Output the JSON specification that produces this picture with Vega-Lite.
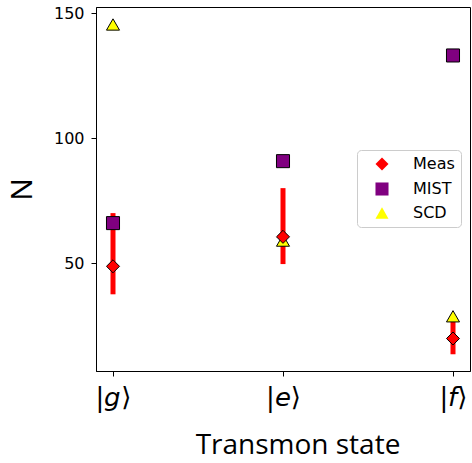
{
  "$schema": "https://vega.github.io/schema/vega-lite/v6.json",
  "width": 374,
  "height": 364,
  "autosize": {"type": "none"},
  "padding": {"left": 96, "top": 7, "right": 2, "bottom": 92},
  "background": "white",
  "config": {
    "view": {"stroke": "black", "strokeWidth": 1},
    "axis": {
      "grid": false,
      "domainColor": "black",
      "domainWidth": 1,
      "tickColor": "black",
      "tickWidth": 1,
      "tickSize": 5,
      "labelColor": "black",
      "titleColor": "black",
      "titleFont": "Open Sans",
      "titleFontWeight": "normal",
      "titleFontSize": 29
    },
    "legend": {
      "orient": "none",
      "legendX": 261,
      "legendY": 143,
      "padding": 6,
      "strokeColor": "#cccccc",
      "fillColor": "white",
      "cornerRadius": 4,
      "symbolSize": 170,
      "symbolStrokeColor": "black",
      "symbolStrokeWidth": 1,
      "symbolOffset": 11,
      "labelOffset": 23,
      "labelFont": "DejaVu Sans",
      "labelFontSize": 16,
      "labelColor": "black",
      "rowPadding": 7
    }
  },
  "datasets": {
    "err": [
      {"state": 0, "lo": 37.5, "hi": 70},
      {"state": 1, "lo": 49.6, "hi": 80},
      {"state": 2, "lo": 13.5, "hi": 27}
    ],
    "pts": [
      {"series": "SCD", "state": 0, "N": 145.5},
      {"series": "SCD", "state": 1, "N": 59},
      {"series": "SCD", "state": 2, "N": 28.7},
      {"series": "Meas", "state": 0, "N": 48.7},
      {"series": "Meas", "state": 1, "N": 60.5},
      {"series": "Meas", "state": 2, "N": 19.8},
      {"series": "MIST", "state": 0, "N": 66},
      {"series": "MIST", "state": 1, "N": 90.8},
      {"series": "MIST", "state": 2, "N": 133.1}
    ]
  },
  "layer": [
    {
      "data": {"name": "err"},
      "mark": {"type": "rule", "color": "red", "strokeWidth": 5},
      "encoding": {
        "x": {"field": "state", "type": "quantitative", "scale": {"domain": [-0.1, 2.1], "nice": false, "zero": false}},
        "y": {"field": "lo", "type": "quantitative", "scale": {"domain": [6.8, 152.5], "nice": false, "zero": false}},
        "y2": {"field": "hi"}
      }
    },
    {
      "data": {"name": "pts"},
      "mark": {"type": "point", "filled": true, "opacity": 1, "size": 170},
      "encoding": {
        "x": {
          "field": "state", "type": "quantitative",
          "scale": {"domain": [-0.1, 2.1], "nice": false, "zero": false},
          "axis": {
            "values": [0, 1, 2],
            "labelExpr": "datum.value == 0 ? '|𝘨⟩' : datum.value == 1 ? '|𝘦⟩' : '|𝘧⟩'",
            "labelFont": "DejaVu Sans",
            "labelFontSize": 26,
            "labelPadding": 8,
            "title": "Transmon state",
            "titleFontSize": 28,
            "titleX": 201.5,
            "titleAlign": "center",
            "titlePadding": 21
          }
        },
        "y": {
          "field": "N", "type": "quantitative",
          "scale": {"domain": [6.8, 152.5], "nice": false, "zero": false},
          "axis": {
            "values": [50, 100, 150],
            "labelFont": "DejaVu Sans",
            "labelFontSize": 16,
            "labelPadding": 7,
            "title": "N",
            "titleFontSize": 30,
            "titlePadding": 16
          }
        },
        "stroke": {"value": "black"},
        "strokeWidth": {"value": 1},
        "fill": {
          "field": "series", "type": "nominal",
          "scale": {"domain": ["Meas", "MIST", "SCD"], "range": ["#ff0000", "#800080", "#ffff00"]},
          "legend": {
            "title": null,
            "encode": {"symbols": {"update": {"stroke": {"value": "black"}, "strokeWidth": {"value": 1}}}}
          }
        },
        "shape": {
          "field": "series", "type": "nominal",
          "scale": {"domain": ["Meas", "MIST", "SCD"], "range": ["diamond", "square", "triangle-up"]},
          "legend": {
            "title": null,
            "encode": {"symbols": {"update": {"stroke": {"value": "black"}, "strokeWidth": {"value": 1}}}}
          }
        }
      }
    }
  ]
}
